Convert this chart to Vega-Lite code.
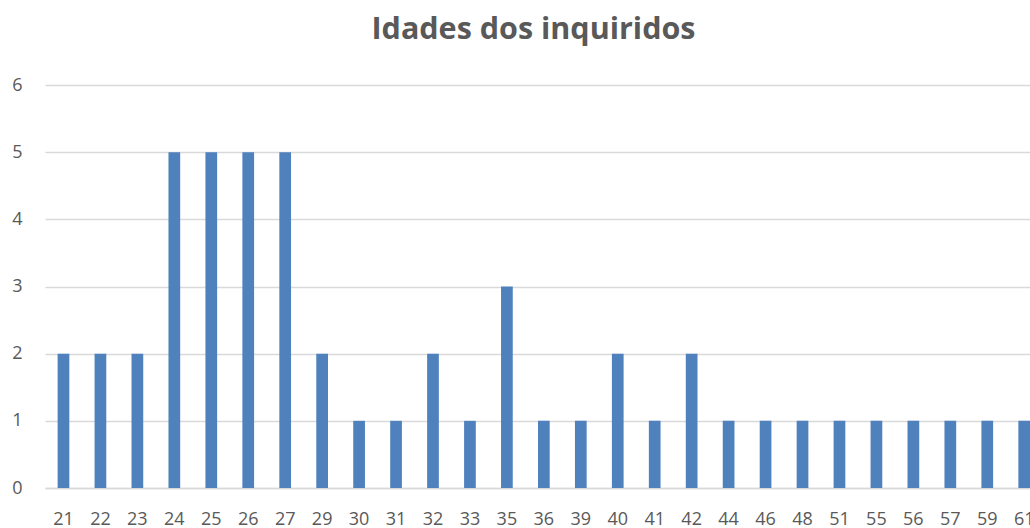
{
  "$schema": "https://vega.github.io/schema/vega-lite/v6.json",
  "width": 985,
  "height": 403,
  "autosize": {"type": "none"},
  "padding": {"left": 45, "right": 0, "top": 85, "bottom": 40},
  "background": "white",
  "title": {
    "text": "Idades dos inquiridos",
    "font": "Open Sans",
    "fontSize": 30.5,
    "fontWeight": "bold",
    "color": "#595959",
    "anchor": "middle",
    "offset": 31,
    "dx": -4
  },
  "data": {
    "values": [
      {"idade": "21", "n": 2},
      {"idade": "22", "n": 2},
      {"idade": "23", "n": 2},
      {"idade": "24", "n": 5},
      {"idade": "25", "n": 5},
      {"idade": "26", "n": 5},
      {"idade": "27", "n": 5},
      {"idade": "29", "n": 2},
      {"idade": "30", "n": 1},
      {"idade": "31", "n": 1},
      {"idade": "32", "n": 2},
      {"idade": "33", "n": 1},
      {"idade": "35", "n": 3},
      {"idade": "36", "n": 1},
      {"idade": "39", "n": 1},
      {"idade": "40", "n": 2},
      {"idade": "41", "n": 1},
      {"idade": "42", "n": 2},
      {"idade": "44", "n": 1},
      {"idade": "46", "n": 1},
      {"idade": "48", "n": 1},
      {"idade": "51", "n": 1},
      {"idade": "55", "n": 1},
      {"idade": "56", "n": 1},
      {"idade": "57", "n": 1},
      {"idade": "59", "n": 1},
      {"idade": "61", "n": 1}
    ]
  },
  "mark": {"type": "bar", "color": "#4f81bd", "clip": true},
  "encoding": {
    "x": {
      "field": "idade",
      "type": "ordinal",
      "sort": null,
      "scale": {"range": [0, 997.7], "paddingInner": 0.683, "paddingOuter": 0.3415},
      "axis": {
        "title": null,
        "labelAngle": 0,
        "labelFont": "Open Sans",
        "labelFontSize": 18,
        "labelColor": "#595959",
        "labelPadding": 22,
        "ticks": false,
        "domainColor": "#d9d9d9",
        "domainWidth": 1.3,
        "grid": false
      }
    },
    "y": {
      "field": "n",
      "type": "quantitative",
      "scale": {"domain": [0, 6], "nice": false},
      "axis": {
        "title": null,
        "values": [0, 1, 2, 3, 4, 5, 6],
        "labelFont": "Open Sans",
        "labelFontSize": 18,
        "labelColor": "#595959",
        "labelPadding": 23,
        "ticks": false,
        "domain": false,
        "gridColor": "#d9d9d9",
        "gridWidth": 1.3
      }
    }
  },
  "config": {"view": {"stroke": null}}
}
